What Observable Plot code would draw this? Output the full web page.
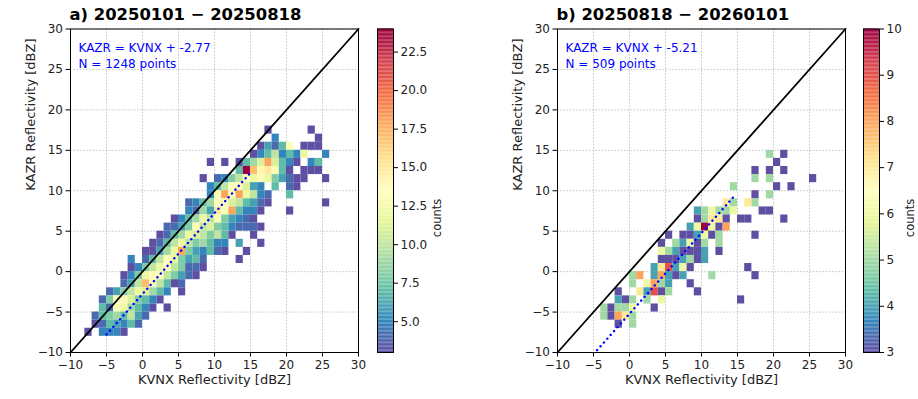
<!DOCTYPE html>
<html><head><meta charset="utf-8">
<script src="https://cdn.jsdelivr.net/npm/d3@7"></script>
<script src="https://cdn.jsdelivr.net/npm/@observablehq/plot@0.6"></script>
<style>
body{margin:0;background:#fff;font-family:"DejaVu Sans",sans-serif;}
#root{position:relative;width:918px;height:399px;overflow:hidden;}
#root > svg{position:absolute;top:0;}
</style></head><body><div id="root"></div>
<script>
const titles = ["a) 20250101 − 20250818", "b) 20250818 − 20260101"];
const fitOffsets = [-2.77, -5.21];
const pointCounts = [1248, 509];
const fitRangeA = [-5, 15];
const fitRangeB = [-4.5, 14.6];
const countDomainA = [3, 24];
const countDomainB = [3, 10];
const axisTicks = [-10, -5, 0, 5, 10, 15, 20, 25, 30];
const cbTicksA = [5, 7.5, 10, 12.5, 15, 17.5, 20, 22.5];
const cbTicksB = [3, 4, 5, 6, 7, 8, 9, 10];
const spectralColors = ["#9e0142","#d53e4f","#f46d43","#fdae61","#fee08b","#ffffbf","#e6f598","#abdda4","#66c2a5","#3288bd","#5e4fa2"];

// [KVNX bin start, KAZR bin start, count]
const cellsA = [
[17,17,3],[23,17,3],
[18,16,5],[24,16,3],
[16,15,3],[17,15,6],[18,15,4],[19,15,7],[20,15,13],[22,15,3],[23,15,3],[24,15,3],
[15,14,3],[16,14,5],[17,14,7],[18,14,10],[19,14,5],[20,14,7],[21,14,5],[22,14,12],[25,14,5],
[9,13,3],[11,13,3],[13,13,3],[14,13,7],[15,13,9],[16,13,11],[17,13,18],[18,13,11],[19,13,7],[20,13,5],[21,13,3],[23,13,5],[24,13,7],
[13,12,7],[14,12,24],[15,12,17],[16,12,14],[17,12,15],[18,12,13],[19,12,7],[20,12,3],[22,12,3],[23,12,3],[24,12,3],
[8,11,3],[10,11,4],[11,11,5],[12,11,8],[13,11,10],[14,11,13],[15,11,12],[16,11,14],[17,11,12],[18,11,8],[19,11,6],[20,11,4],[21,11,3],[22,11,3],[25,11,3],
[9,10,5],[10,10,7],[11,10,10],[12,10,13],[13,10,14],[14,10,11],[15,10,6],[16,10,5],[18,10,7],[20,10,4],[21,10,3],
[9,9,5],[10,9,13],[11,9,18],[12,9,13],[13,9,18],[14,9,12],[15,9,10],[16,9,5],[17,9,4],[20,9,7],
[6,8,4],[7,8,5],[8,8,7],[9,8,9],[10,8,13],[11,8,14],[12,8,11],[13,8,10],[14,8,7],[15,8,6],[16,8,4],[17,8,3],[25,8,3],
[6,7,5],[7,7,4],[8,7,9],[9,7,6],[10,7,15],[11,7,13],[12,7,18],[13,7,7],[14,7,5],[15,7,5],[16,7,3],[20,7,3],
[4,6,3],[5,6,5],[6,6,7],[7,6,9],[8,6,12],[9,6,10],[10,6,13],[11,6,8],[12,6,6],[13,6,5],[14,6,4],[15,6,3],
[3,5,4],[4,5,4],[5,5,6],[6,5,8],[7,5,13],[8,5,10],[9,5,11],[10,5,8],[11,5,7],[12,5,5],[13,5,4],[14,5,4],[15,5,4],[16,5,3],
[2,4,3],[3,4,4],[4,4,7],[5,4,9],[6,4,12],[7,4,11],[8,4,10],[9,4,8],[10,4,10],[11,4,7],[12,4,3],[15,4,3],
[1,3,3],[2,3,4],[3,3,7],[4,3,10],[5,3,12],[6,3,10],[7,3,8],[8,3,9],[9,3,7],[10,3,5],[11,3,5],[13,3,6],[16,3,3],
[0,2,3],[1,2,3],[2,2,6],[3,2,9],[4,2,12],[5,2,18],[6,2,8],[7,2,6],[8,2,5],[9,2,7],[10,2,4],[11,2,3],[14,2,3],
[-2,1,5],[0,1,4],[1,1,7],[2,1,10],[3,1,13],[4,1,12],[5,1,8],[6,1,6],[7,1,7],[8,1,4],[13,1,3],
[-2,0,3],[-1,0,5],[0,0,8],[1,0,10],[2,0,12],[3,0,13],[4,0,10],[5,0,8],[6,0,4],[7,0,4],[8,0,3],
[-3,-1,3],[-2,-1,5],[-1,-1,8],[0,-1,12],[1,-1,14],[2,-1,13],[3,-1,10],[4,-1,8],[5,-1,6],[6,-1,4],[7,-1,3],
[-3,-2,4],[-2,-2,6],[-1,-2,10],[0,-2,17],[1,-2,13],[2,-2,10],[3,-2,7],[4,-2,3],[5,-2,4],
[-5,-3,4],[-4,-3,6],[-3,-3,8],[-2,-3,10],[-1,-3,12],[0,-3,11],[1,-3,9],[2,-3,7],[3,-3,5],[5,-3,3],
[-6,-4,4],[-5,-4,8],[-4,-4,13],[-3,-4,14],[-2,-4,11],[-1,-4,8],[0,-4,7],[1,-4,5],[2,-4,3],
[-6,-5,7],[-5,-5,4],[-4,-5,13],[-3,-5,12],[-2,-5,9],[-1,-5,7],[0,-5,5],[1,-5,3],[3,-5,3],
[-7,-6,4],[-6,-6,7],[-5,-6,8],[-4,-6,9],[-3,-6,7],[-2,-6,10],[-1,-6,6],[0,-6,4],
[-7,-7,3],[-6,-7,4],[-5,-7,7],[-4,-7,6],[-3,-7,5],[-2,-7,7],[-1,-7,4],
[-8,-8,3],[-6,-8,5],[-5,-8,5],[-4,-8,5],[-3,-8,3]
];

const cellsB = [
[19,14,5],[21,14,3],
[20,13,3],
[17,12,3],[19,12,3],[21,12,3],
[17,11,5],[19,11,5],[25,11,3],
[14,10,5],[20,10,3],[22,10,3],
[17,9,3],[19,9,5],
[13,8,7],[14,8,5],[16,8,7],[17,8,5],
[9,7,4],[10,7,5],[11,7,6],[12,7,5],[13,7,5],[14,7,6],[18,7,3],[19,7,3],
[9,6,3],[10,6,5],[11,6,7],[12,6,7],[13,6,3],[15,6,3],[16,6,3],[21,6,3],
[8,5,4],[9,5,6],[10,5,10],[11,5,6],[12,5,3],[13,5,8],
[5,4,3],[7,4,3],[8,4,3],[9,4,4],[10,4,6],[11,4,3],[12,4,5],[17,4,3],
[4,3,3],[6,3,5],[7,3,4],[8,3,6],[9,3,3],[10,3,5],[12,3,5],
[4,2,6],[5,2,5],[6,2,4],[7,2,3],[8,2,3],[9,2,3],[10,2,4],[12,2,3],
[4,1,3],[5,1,3],[6,1,3],[7,1,4],[8,1,5],[9,1,3],[10,1,4],
[3,0,4],[4,0,7],[5,0,9],[6,0,4],[7,0,6],[8,0,3],[16,0,3],
[0,-1,5],[1,-1,8],[3,-1,4],[4,-1,8],[5,-1,4],[6,-1,3],[7,-1,4],[11,-1,5],[17,-1,3],
[0,-2,5],[2,-2,6],[3,-2,8],[4,-2,5],[5,-2,4],[8,-2,3],
[-2,-3,3],[1,-3,7],[2,-3,4],[3,-3,9],[4,-3,3],[5,-3,5],[9,-3,3],
[-2,-4,4],[-1,-4,3],[0,-4,5],[2,-4,5],[4,-4,6],[15,-4,3],
[-4,-5,5],[-3,-5,3],[-2,-5,5],[-1,-5,5],[0,-5,6],[3,-5,3],
[-4,-6,5],[-3,-6,3],[-2,-6,8],[-1,-6,7],[0,-6,5],
[-2,-7,3],[0,-7,5]
];

const interp = d3.piecewise(d3.interpolateRgb, spectralColors.slice().reverse());
const FRAME_TOP = 28.5, FRAME_BOTTOM = 352, H = 399;
const font = '"DejaVu Sans", sans-serif';

function panel(cells, dom, idx, fitRange) {
  const off = fitOffsets[idx];
  return Plot.plot({
    width: 370, height: H,
    marginLeft: 70, marginRight: 12, marginTop: FRAME_TOP, marginBottom: H - FRAME_BOTTOM,
    style: {fontFamily: font, background: "transparent", overflow: "visible"},
    x: {domain: [-10, 30]},
    y: {domain: [-10, 30]},
    color: {type: "linear", domain: dom, interpolate: interp},
    marks: [
      Plot.gridX(axisTicks, {stroke: "#b8b8b8", strokeOpacity: 1, strokeWidth: 0.8, strokeDasharray: "1.6,1.6"}),
      Plot.gridY(axisTicks, {stroke: "#b8b8b8", strokeOpacity: 1, strokeWidth: 0.8, strokeDasharray: "1.6,1.6"}),
      Plot.rect(cells, {x1: d => d[0], x2: d => d[0] + 1, y1: d => d[1], y2: d => d[1] + 1, fill: d => d[2]}),
      Plot.line([-10, 30], {x: d => d, y: d => d, stroke: "black", strokeWidth: 1.8}),
      Plot.line(fitRange, {x: d => d, y: d => d + off, stroke: "#0000ff", strokeWidth: 2.4, strokeDasharray: "0.1,5", strokeLinecap: "round"}),
      Plot.frame({stroke: "black", strokeWidth: 1}),
      Plot.axisX(axisTicks, {tickSize: 4.5, tickPadding: 3, fontSize: 12, label: null, fill: "#222"}),
      Plot.axisY(axisTicks, {tickSize: 4.5, tickPadding: 3, fontSize: 12, label: null, fill: "#222"}),
      Plot.text([`KAZR = KVNX + ${off.toFixed(2)}\nN = ${pointCounts[idx]} points`], {
        frameAnchor: "top-left", textAnchor: "start", lineAnchor: "top", dx: 8, dy: 12,
        fontSize: 12, fill: "#0000ff", lineHeight: 1.3}),
      Plot.text([titles[idx]], {frameAnchor: "top-left", textAnchor: "start", lineAnchor: "middle",
        dx: -1, dy: -14.5, fontSize: 16.4, fontWeight: "bold", fill: "black"}),
      Plot.text(["KVNX Reflectivity [dBZ]"], {frameAnchor: "bottom", dy: 31, fontSize: 13, fill: "#222"}),
      Plot.text(["KAZR Reflectivity [dBZ]"], {frameAnchor: "left", dx: -40, rotate: -90, fontSize: 13, fill: "#222"})
    ]
  });
}

function colorbar(dom, ticks, fmt, labelDx) {
  const n = 240, step = (dom[1] - dom[0]) / n;
  const strips = d3.range(n).map(i => dom[0] + i * step);
  return Plot.plot({
    width: 76, height: H,
    marginLeft: 0, marginRight: 60, marginTop: FRAME_TOP, marginBottom: H - FRAME_BOTTOM,
    style: {fontFamily: font, background: "transparent", overflow: "visible"},
    x: {domain: [0, 1], axis: null},
    y: {domain: dom},
    color: {type: "linear", domain: dom, interpolate: interp},
    marks: [
      Plot.rect(strips, {x1: 0, x2: 1, y1: d => d, y2: d => d + step * 1.02, fill: d => d + step / 2}),
      Plot.frame({stroke: "black", strokeWidth: 1}),
      Plot.axisY(ticks, {anchor: "right", tickSize: 4, tickPadding: 3, fontSize: 12, label: null, tickFormat: fmt, fill: "#222"}),
      Plot.text(["counts"], {frameAnchor: "right", dx: labelDx, dy: 8, rotate: -90, fontSize: 11.5, fill: "#222"})
    ]
  });
}

const root = document.getElementById("root");
const pa = panel(cellsA, countDomainA, 0, fitRangeA); pa.style.left = "0px";
const ca = colorbar(countDomainA, cbTicksA, d => d.toFixed(1), 44); ca.style.left = "377px";
const pb = panel(cellsB, countDomainB, 1, fitRangeB); pb.style.left = "487px";
const cb = colorbar(countDomainB, cbTicksB, d => d.toFixed(0), 31); cb.style.left = "863px";
[pa, ca, pb, cb].forEach(s => { s.style.position = "absolute"; s.style.top = "0px"; root.appendChild(s); });
</script></body></html>
